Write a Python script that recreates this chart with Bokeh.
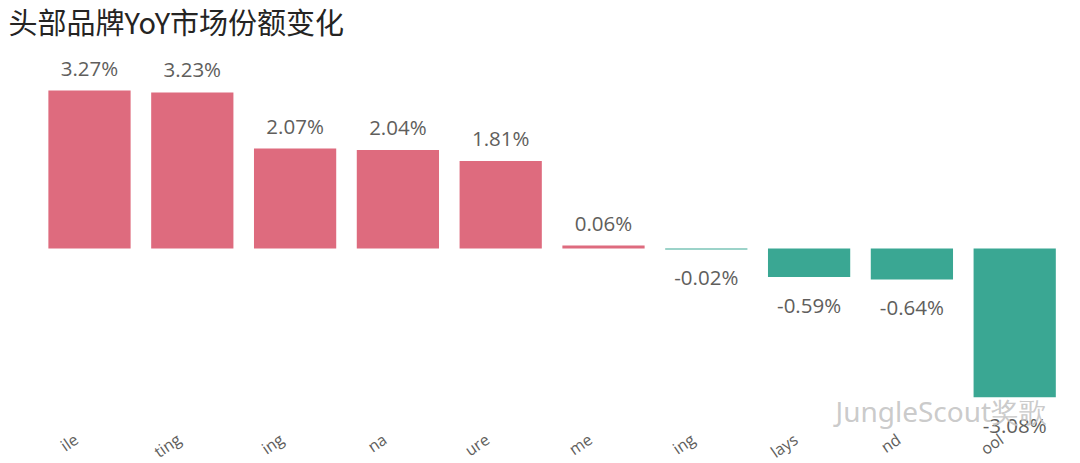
from bokeh.plotting import figure
from bokeh.models import Range1d, Label, ColumnDataSource
from bokeh.core.properties import value
from bokeh.embed import file_html
from bokeh.resources import INLINE

title = "头部品牌YoY市场份额变化"
# category names as visible (cut off) in the reference
categories = ["ile", "ting", "ing", "na", "ure", "me", "ing", "lays", "nd", "ool"]
changes = [3.27, 3.23, 2.07, 2.04, 1.81, 0.06, -0.02, -0.59, -0.64, -3.08]
pos_color = "#DE6B7E"
neg_color = "#3AA793"
watermark = "JungleScout奖歌"

idx = list(range(len(categories)))
colors = [pos_color if v >= 0 else neg_color for v in changes]
labels = [f"{v:.2f}%" for v in changes]

W, H = 1080, 463
step = 102.8      # px per category
first_c = 89      # px of first category centre
px_per_unit = 48.3
zero_px = 248

def ydata(py):
    return (zero_px - py) / px_per_unit

def xdata(px):
    return (px - first_c) / step

p = figure(width=W, height=H, output_backend="svg", toolbar_location=None,
           x_axis_location=None, y_axis_location=None,
           x_range=Range1d(xdata(0), xdata(W)),
           y_range=Range1d(ydata(H), ydata(0)),
           min_border_left=0, min_border_right=0, min_border_bottom=0, min_border_top=0)
p.outline_line_color = None
p.grid.visible = False
p.background_fill_color = "white"

p.add_layout(Label(x=xdata(8), y=ydata(20), text=title, text_font="Noto Sans CJK SC",
                   text_font_size="29px", text_color="#252423", text_baseline="middle",
                   text_align="left"))

src = ColumnDataSource(dict(x=idx, top=changes, color=colors))
p.vbar(x="x", top="top", bottom=0, width=0.8, fill_color="color", line_color=None, source=src)

pos = ColumnDataSource(dict(x=[i for i, v in zip(idx, changes) if v >= 0],
                            y=[v for v in changes if v >= 0],
                            t=[l for l, v in zip(labels, changes) if v >= 0]))
neg = ColumnDataSource(dict(x=[i for i, v in zip(idx, changes) if v < 0],
                            y=[v for v in changes if v < 0],
                            t=[l for l, v in zip(labels, changes) if v < 0]))
common = dict(text="t", text_font=value("Open Sans"), text_font_size="20.5px",
              text_color="#605E5C", text_align="center")
p.text(x="x", y="y", source=pos, text_baseline="bottom", y_offset=-9, **common)
p.text(x="x", y="y", source=neg, text_baseline="top", y_offset=14, **common)

label_y = ydata(446)
p.text(x=idx, y=[label_y] * len(idx), text=categories, text_font=value("Open Sans"),
       text_font_size="16px", text_color="#605E5C", text_align="right",
       text_baseline="bottom", angle=0.6, x_offset=-7)

p.add_layout(Label(x=xdata(835), y=ydata(410), text=watermark, text_font="Noto Sans",
                   text_font_size="28px", text_color="#c4c4c4", text_alpha=0.9,
                   text_baseline="middle"))

open("out.html", "w").write(file_html(p, INLINE))
